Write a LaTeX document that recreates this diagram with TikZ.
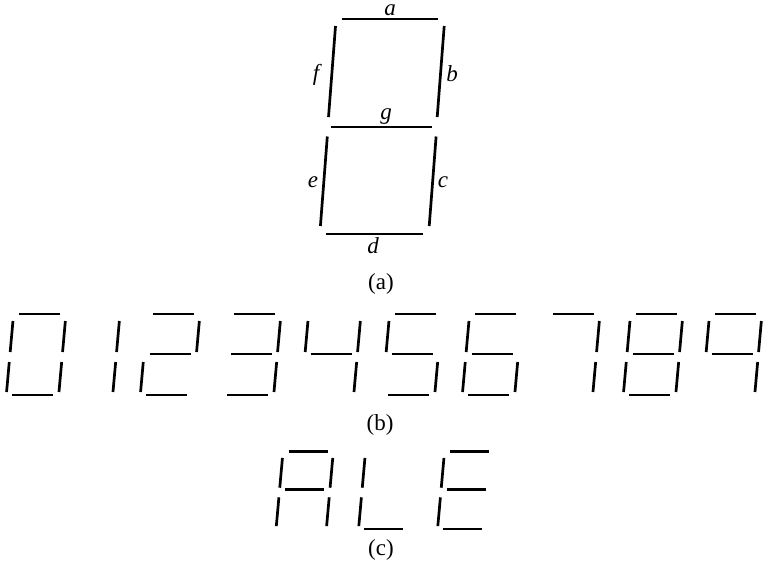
\documentclass[tikz,border=0pt]{standalone}
\usepackage{fontspec}
\setmainfont{Liberation Serif}

% segments of one small display digit, origin at bottom left, y up
\expandafter\def\csname dseg-a\endcsname{(12,81) -- (53,81)}
\expandafter\def\csname dseg-g\endcsname{(12,41) -- (53,41)}
\expandafter\def\csname dseg-d\endcsname{(12,0) -- (53,0)}
\expandafter\def\csname dseg-f\endcsname{(6.3,43) -- (6.3,74)}
\expandafter\def\csname dseg-b\endcsname{(58.7,43) -- (58.7,74)}
\expandafter\def\csname dseg-e\endcsname{(6.3,3) -- (6.3,33)}
\expandafter\def\csname dseg-c\endcsname{(58.7,3) -- (58.7,33)}

% #1 = left, #2 = bottom, #3 = scale, #4 = lit segments
\newcommand{\segdigit}[4]{%
  \begin{scope}[shift={(#1,#2)}, xscale=#3, yscale=-#3, xslant=-0.09]
    \foreach \s in {#4} {%
      \edef\segpath{\csname dseg-\s\endcsname}%
      \draw[seg] \segpath;
    }
  \end{scope}}

\tikzset{
  seg/.style={line width=2.7pt},
  seglabel/.style={font=\fontsize{23}{27}\selectfont\itshape, inner sep=0pt},
  caption/.style={font=\fontsize{23}{27}\selectfont, inner sep=0pt}
}

\begin{document}
\begin{tikzpicture}[x=1pt, y=-1pt]
  \useasboundingbox (0,0) rectangle (763,571);

  % (a) the big digit
  \begin{scope}[shift={(0,234)}, yscale=-1, xslant=-0.077]
    \draw[seg] (325,215) -- (421,215);
    \draw[seg] (323,107) -- (424,107);
    \draw[seg] (326,0) -- (423,0);
    \draw[seg] (319.5,117) -- (319.5,208);
    \draw[seg] (428.2,117) -- (428.2,208);
    \draw[seg] (319.8,8) -- (319.8,97.5);
    \draw[seg] (428.6,8) -- (428.6,97.5);
  \end{scope}
  \node (la) [seglabel] at (390,10.5) {a};
  \node (lb) [seglabel] at (452,74) {b};
  \node (lc) [seglabel] at (443,182) {c};
  \node (ld) [seglabel] at (373,246) {d};
  \node (le) [seglabel] at (313,182) {e};
  \node (lf) [seglabel] at (316,75) {f};
  \node (lg) [seglabel] at (386,117) {g};
  \node (capa) [caption] at (381,284) {(a)};

  % (b) the ten digits
  \segdigit{0}{395}{1}{a,b,c,d,e,f}
  \segdigit{54}{395}{1}{b,c}
  \segdigit{134}{395}{1}{a,b,g,e,d}
  \segdigit{215}{395}{1}{a,b,g,c,d}
  \segdigit{295}{395}{1}{f,g,b,c}
  \segdigit{376}{395}{1}{a,f,g,c,d}
  \segdigit{456}{395}{1}{a,f,g,e,d,c}
  \segdigit{534}{395}{1}{a,b,c}
  \segdigit{617}{395}{1}{a,b,c,d,e,f,g}
  \segdigit{696}{395}{1}{a,b,c,f,g}
  \node (capb) [caption] at (380,425) {(b)};

  % (c) letters
  \segdigit{270}{529}{0.96}{a,b,c,e,f,g}
  \segdigit{352.5}{529}{0.96}{f,e,d}
  \segdigit{431.5}{529}{0.96}{a,f,g,e,d}
  \node (capc) [caption] at (381,550) {(c)};
\end{tikzpicture}
\end{document}
